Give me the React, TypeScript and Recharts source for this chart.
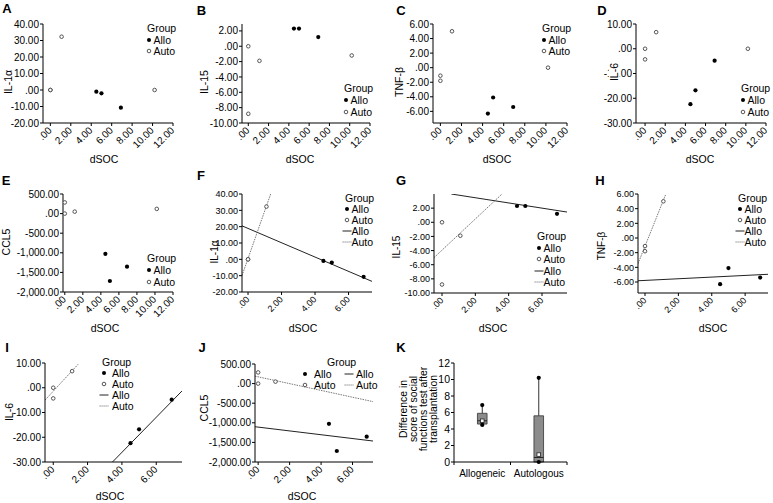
import React from 'react';
import { ComposedChart, Scatter, XAxis, YAxis, ReferenceLine, ReferenceArea } from 'recharts';

const FONT = '"Liberation Sans", Arial, Helvetica, sans-serif';
const INK = '#000';

// dSOC per animal
const alloDSOC = [4.5, 5.0, 6.9];
const autoDSOC = [0, 0, 1.1, 10.2];

// cytokine change per animal (same order as dSOC)
const il1aAllo = [-1, -2, -10.7];
const il1aAuto = [0, 0, 32.3, 0];
const il15Allo = [2.3, 2.3, 1.2];
const il15Auto = [0, -8.8, -1.9, -1.2];
const tnfbAllo = [-6.3, -4.1, -5.4];
const tnfbAuto = [-1.1, -1.8, 5.0, 0];
const il6Allo = [-22.4, -16.8, -4.8];
const il6Auto = [0, -4.3, 6.7, 0];
const ccl5Allo = [-1025, -1720, -1355];
const ccl5Auto = [285, 0, 50, 120];

const il1aFitAllo = [[-0.36, 20.5], [7.4, -13.5]];
const il1aFitAuto = [[-0.36, -10], [1.35, 40]];
const il15FitAllo = [[0.56, 4], [7.5, 1.45]];
const il15FitAuto = [[-0.48, -5], [3.6, 4]];
const tnfbFitAllo = [[-0.42, -5.83], [7.37, -4.95]];
const tnfbFitAuto = [[-0.42, -3.5], [1.25, 6]];
const il6FitAllo = [[3.45, -30], [7.5, -1.3]];
const il6FitAuto = [[-0.48, -5], [1.45, 9.5]];
const ccl5FitAllo = [[-0.2, -1100], [7.3, -1465]];
const ccl5FitAuto = [[-0.2, 190], [7.3, -460]];

// panel K box plot
const kGroups = ['Allogeneic', 'Autologous'];
const kMin = [4.5, 0];
const kQ1 = [4.6, 0];
const kMed = [5.0, 0.55];
const kQ3 = [5.9, 5.6];
const kMax = [6.9, 10.2];
const kFilled = [[6.9, 4.5], [10.2, 0]];
const kOpen = [[5.0], [0.9]];

const fmt = (v: number) =>
  v === 0 ? '.00' : v.toLocaleString('en-US', { minimumFractionDigits: 2, maximumFractionDigits: 2 });

const pts = (xs: number[], ys: number[]) => xs.map((x, i) => ({ x, y: ys[i] }));

const Dot = (p: any) => <circle cx={p.cx} cy={p.cy} r={2.1} fill={INK} />;
const Ring = (p: any) => <circle cx={p.cx} cy={p.cy} r={1.8} fill="#fff" stroke="#444" strokeWidth={0.9} />;
const OpenSq = (p: any) => (
  <rect x={p.cx - 1.8} y={p.cy - 1.8} width={3.6} height={3.6} fill="#fff" stroke="#333" strokeWidth={0.9} />
);

const RotTick = (props: any) => {
  const { x, y, payload, fs } = props;
  const ax = x + 2;
  const ay = y + 3;
  return (
    <text x={ax} y={ay} transform={`rotate(-45 ${ax} ${ay})`} textAnchor="end" fontSize={fs} fontFamily={FONT} fill={INK}>
      {fmt(payload.value)}
    </text>
  );
};

const KTick = (props: any) => {
  const { x, y, payload } = props;
  const v = payload.value;
  if (Number.isInteger(v)) {
    return <line x1={x} x2={x} y1={y - 5} y2={y - 2} stroke={INK} />;
  }
  return (
    <text x={x} y={y + 10} textAnchor="middle" fontSize={10} fontFamily={FONT} fill={INK}>
      {kGroups[Math.floor(v)]}
    </text>
  );
};

function Txt({ x, y, children, size = 10.5, bold = false, center = false }: any) {
  return (
    <div
      style={{
        position: 'absolute',
        left: x,
        top: y,
        transform: center ? 'translate(-50%, -50%)' : 'translateY(-50%)',
        fontSize: size,
        fontWeight: bold ? 'bold' : 'normal',
        lineHeight: 1,
        whiteSpace: 'nowrap',
      }}
    >
      {children}
    </div>
  );
}

function VTxt({ x, y, children, size = 10.5, mask = false }: any) {
  return (
    <div
      style={{
        position: 'absolute',
        left: x,
        top: y,
        transform: 'translate(-50%, -50%) rotate(-90deg)',
        fontSize: size,
        lineHeight: 1,
        whiteSpace: 'nowrap',
        background: mask ? '#fff' : 'transparent',
        padding: mask ? '0 1px' : 0,
      }}
    >
      {children}
    </div>
  );
}

type Mark = 'dot' | 'ring' | 'solid' | 'dotted';
const markLabel: Record<Mark, string> = { dot: 'Allo', ring: 'Auto', solid: 'Allo', dotted: 'Auto' };

function LegMark({ kind, x, y }: { kind: Mark; x: number; y: number }) {
  return (
    <svg style={{ position: 'absolute', left: x - 6, top: y - 4 }} width={12} height={8}>
      {kind === 'dot' && <circle cx={6} cy={4} r={2} fill={INK} />}
      {kind === 'ring' && <circle cx={6} cy={4} r={1.8} fill="#fff" stroke="#444" strokeWidth={0.9} />}
      {kind === 'solid' && <line x1={1.5} x2={10.5} y1={4} y2={4} stroke="#222" strokeWidth={1} />}
      {kind === 'dotted' && <line x1={1.5} x2={10.5} y1={4} y2={4} stroke="#555" strokeWidth={0.8} strokeDasharray="1.2 0.8" />}
    </svg>
  );
}

type LegItem = { kind: Mark; mx: number; tx: number; y: number };

function GroupLegend({ gx, gy, items }: { gx: number; gy: number; items: LegItem[] }) {
  return (
    <>
      <Txt x={gx} y={gy}>Group</Txt>
      {items.map((it, i) => (
        <React.Fragment key={i}>
          <LegMark kind={it.kind} x={it.mx} y={it.y} />
          <Txt x={it.tx} y={it.y}>{markLabel[it.kind]}</Txt>
        </React.Fragment>
      ))}
    </>
  );
}

const stack = (gx: number, gy: number, gap: number, tOff: number, kinds: Mark[]): LegItem[] =>
  kinds.map((k, i) => ({ kind: k, mx: gx + 1.5, tx: gx + tOff, y: gy + gap * (i + 1) }));

type PanelCfg = {
  letter: string; lx: number; ly: number;
  x0: number; l: number; r: number; t: number; b: number;
  xDomain: [number, number]; xTicks: number[];
  yDomain: [number, number]; yTicks: number[];
  yLabel: string; ylx: number; yly: number; xlx: number; xly: number;
  allo: number[]; auto: number[];
  fitAllo?: number[][]; fitAuto?: number[][];
  legend: { gx: number; gy: number; items: LegItem[] };
  fs?: number; mask?: boolean;
};

const wideTicks = [0, 2, 4, 6, 8, 10, 12];
const shortTicks = [0, 2, 4, 6];
const both: Mark[] = ['dot', 'ring'];
const four: Mark[] = ['dot', 'ring', 'solid', 'dotted'];

const panels: PanelCfg[] = [
  {
    letter: 'A', lx: 7, ly: 7.5, x0: 0, l: 43, r: 173, t: 24, b: 123,
    xDomain: [-0.72, 12], xTicks: wideTicks, yDomain: [-20, 40], yTicks: [-20, -10, 0, 10, 20, 30, 40],
    yLabel: 'IL-1α', ylx: 8, yly: 82, xlx: 104, xly: 159, allo: il1aAllo, auto: il1aAuto,
    legend: { gx: 147, gy: 28, items: stack(147, 28, 11.5, 6.5, both) },
  },
  {
    letter: 'B', lx: 201.5, ly: 9.5, x0: 190, l: 242, r: 370, t: 24, b: 123,
    xDomain: [-0.62, 12], xTicks: wideTicks, yDomain: [-10, 2.9], yTicks: [-10, -8, -6, -4, -2, 0, 2],
    yLabel: 'IL-15', ylx: 204, yly: 82, xlx: 300, xly: 159, allo: il15Allo, auto: il15Auto,
    legend: { gx: 344, gy: 88, items: stack(344, 88, 12, 6.5, both) },
  },
  {
    letter: 'C', lx: 401, ly: 9.5, x0: 380, l: 433, r: 567, t: 24, b: 123,
    xDomain: [-0.7, 12], xTicks: wideTicks, yDomain: [-7.6, 6], yTicks: [-6, -4, -2, 0, 2, 4, 6],
    yLabel: 'TNF-β', ylx: 399, yly: 82, xlx: 497, xly: 159, allo: tnfbAllo, auto: tnfbAuto,
    legend: { gx: 542, gy: 28, items: stack(542, 28, 11.5, 6.5, both) },
  },
  {
    letter: 'D', lx: 602, ly: 9.5, x0: 573, l: 636, r: 766, t: 24, b: 123,
    xDomain: [-0.9, 12], xTicks: wideTicks, yDomain: [-30, 10], yTicks: [-30, -20, -10, 0, 10],
    yLabel: 'IL-6', ylx: 614, yly: 72, xlx: 700, xly: 159, allo: il6Allo, auto: il6Auto,
    legend: { gx: 741, gy: 88, items: stack(741, 88, 12, 6.5, both) }, mask: true,
  },
  {
    letter: 'E', lx: 6, ly: 180, x0: 0, l: 63, r: 173, t: 194, b: 292,
    xDomain: [-0.2, 12], xTicks: wideTicks, yDomain: [-2000, 500], yTicks: [-2000, -1500, -1000, -500, 0, 500],
    yLabel: 'CCL5', ylx: 6, yly: 242, xlx: 105, xly: 328, allo: ccl5Allo, auto: ccl5Auto,
    legend: { gx: 147, gy: 258, items: stack(147, 258, 12, 6.5, both) },
  },
  {
    letter: 'F', lx: 201, ly: 175, x0: 190, l: 242, r: 372, t: 194, b: 292,
    xDomain: [-0.36, 7.4], xTicks: shortTicks, yDomain: [-20, 40], yTicks: [-20, -10, 0, 10, 20, 30, 40],
    yLabel: 'IL-1α', ylx: 215, yly: 252, xlx: 303, xly: 328, allo: il1aAllo, auto: il1aAuto,
    fitAllo: il1aFitAllo, fitAuto: il1aFitAuto, fs: 9,
    legend: { gx: 345, gy: 198, items: stack(345, 198, 11, 6.5, four) },
  },
  {
    letter: 'G', lx: 401, ly: 180, x0: 380, l: 434, r: 567, t: 194, b: 293,
    xDomain: [-0.48, 7.5], xTicks: shortTicks, yDomain: [-10, 4], yTicks: [-10, -8, -6, -4, -2, 0, 2],
    yLabel: 'IL-15', ylx: 397, yly: 247, xlx: 493, xly: 328, allo: il15Allo, auto: il15Auto,
    fitAllo: il15FitAllo, fitAuto: il15FitAuto, fs: 9,
    legend: { gx: 537, gy: 236, items: stack(537, 236, 11.5, 6.5, four) },
  },
  {
    letter: 'H', lx: 600, ly: 180, x0: 573, l: 638, r: 768, t: 194, b: 293,
    xDomain: [-0.42, 7.37], xTicks: shortTicks, yDomain: [-7.5, 6], yTicks: [-6, -4, -2, 0, 2, 4, 6],
    yLabel: 'TNF-β', ylx: 602, yly: 246, xlx: 713, xly: 328, allo: tnfbAllo, auto: tnfbAuto,
    fitAllo: tnfbFitAllo, fitAuto: tnfbFitAuto, fs: 9,
    legend: { gx: 738, gy: 198, items: stack(738, 198, 11, 6.5, four) },
  },
  {
    letter: 'I', lx: 7, ly: 347, x0: 0, l: 45, r: 182, t: 363, b: 462,
    xDomain: [-0.48, 7.5], xTicks: shortTicks, yDomain: [-30, 10], yTicks: [-30, -20, -10, 0, 10],
    yLabel: 'IL-6', ylx: 9, yly: 412, xlx: 110, xly: 496, allo: il6Allo, auto: il6Auto,
    fitAllo: il6FitAllo, fitAuto: il6FitAuto,
    legend: { gx: 102, gy: 362, items: stack(102, 362, 11, 10, four) },
  },
  {
    letter: 'J', lx: 202, ly: 347, x0: 190, l: 255, r: 373, t: 364, b: 462,
    xDomain: [-0.2, 7.3], xTicks: shortTicks, yDomain: [-2000, 500], yTicks: [-2000, -1500, -1000, -500, 0, 500],
    yLabel: 'CCL5', ylx: 204, yly: 408, xlx: 302, xly: 496, allo: ccl5Allo, auto: ccl5Auto,
    fitAllo: ccl5FitAllo, fitAuto: ccl5FitAuto,
    legend: {
      gx: 327, gy: 362,
      items: [
        { kind: 'dot', mx: 305, tx: 314, y: 373.5 },
        { kind: 'ring', mx: 305, tx: 314, y: 384.5 },
        { kind: 'solid', mx: 348.5, tx: 356, y: 373.5 },
        { kind: 'dotted', mx: 348.5, tx: 356, y: 384.5 },
      ],
    },
  },
];

function ScatterPanel({ p }: { p: PanelCfg }) {
  const top = p.t - 6;
  const w = p.r - p.x0 + 2;
  const h = p.b - top + 40;
  const fs = p.fs ?? 10;
  const inX = (d: { x: number }) => d.x <= p.xDomain[1];
  const allo = pts(alloDSOC, p.allo).filter(inX);
  const auto = pts(autoDSOC, p.auto).filter(inX);
  return (
    <>
      <div style={{ position: 'absolute', left: p.x0, top }}>
        <ComposedChart width={w} height={h} margin={{ top: 6, right: 2, bottom: 0, left: 0 }}>
          <XAxis
            type="number"
            dataKey="x"
            domain={p.xDomain}
            ticks={p.xTicks}
            allowDataOverflow
            interval={0}
            height={40}
            tickSize={3}
            tick={(props: any) => <RotTick {...props} fs={fs} />}
            stroke={INK}
          />
          <YAxis
            type="number"
            dataKey="y"
            domain={p.yDomain}
            ticks={p.yTicks}
            allowDataOverflow
            interval={0}
            width={p.l - p.x0}
            tickSize={3}
            tickMargin={1}
            tickFormatter={fmt}
            tick={{ fontSize: fs, fill: INK, fontFamily: FONT }}
            stroke={INK}
          />
          {p.fitAllo && (
            <ReferenceLine
              segment={p.fitAllo.map(([x, y]) => ({ x, y }))}
              stroke="#222"
              strokeWidth={1}
              ifOverflow="hidden"
            />
          )}
          {p.fitAuto && (
            <ReferenceLine
              segment={p.fitAuto.map(([x, y]) => ({ x, y }))}
              stroke="#555"
              strokeWidth={0.8}
              strokeDasharray="1.5 1"
              ifOverflow="hidden"
            />
          )}
          <Scatter data={allo} shape={Dot} isAnimationActive={false} />
          <Scatter data={auto} shape={Ring} isAnimationActive={false} />
        </ComposedChart>
      </div>
      <Txt x={p.lx} y={p.ly} size={13} bold center>{p.letter}</Txt>
      <VTxt x={p.ylx} y={p.yly} size={p.fs ? 10 : 10.5} mask={p.mask}>{p.yLabel}</VTxt>
      <Txt x={p.xlx} y={p.xly} center>dSOC</Txt>
      <GroupLegend gx={p.legend.gx} gy={p.legend.gy} items={p.legend.items} />
    </>
  );
}

function BoxPanel() {
  const x0 = 380;
  const l = 454;
  const r = 567;
  const t = 363;
  const b = 462;
  const top = t - 6;
  const half = 0.085;
  const filled = kFilled.flatMap((ys, i) => ys.map((y) => ({ x: i + 0.5, y })));
  const open = kOpen.flatMap((ys, i) => ys.map((y) => ({ x: i + 0.5, y })));
  return (
    <>
      <div style={{ position: 'absolute', left: x0, top }}>
        <ComposedChart width={r - x0 + 2} height={b - top + 30} margin={{ top: 6, right: 2, bottom: 0, left: 0 }}>
          <XAxis
            type="number"
            dataKey="x"
            domain={[0, 2]}
            ticks={[0, 0.5, 1, 1.5, 2]}
            interval={0}
            height={30}
            tickSize={3}
            tickLine={false}
            tick={(props: any) => <KTick {...props} />}
            stroke={INK}
          />
          <YAxis
            type="number"
            dataKey="y"
            domain={[0, 12]}
            ticks={[0, 2, 4, 6, 8, 10, 12]}
            interval={0}
            width={l - x0}
            tickSize={3}
            tickMargin={1}
            tick={{ fontSize: 10.5, fill: INK, fontFamily: FONT }}
            stroke={INK}
          />
          {kGroups.map((g, i) => (
            <ReferenceLine
              key={`wl-${g}`}
              segment={[{ x: i + 0.5, y: kMin[i] }, { x: i + 0.5, y: kQ1[i] }]}
              stroke="#333"
              ifOverflow="visible"
            />
          ))}
          {kGroups.map((g, i) => (
            <ReferenceLine
              key={`wh-${g}`}
              segment={[{ x: i + 0.5, y: kQ3[i] }, { x: i + 0.5, y: kMax[i] }]}
              stroke="#333"
              ifOverflow="visible"
            />
          ))}
          {kGroups.map((g, i) => (
            <ReferenceArea
              key={`box-${g}`}
              x1={i + 0.5 - half}
              x2={i + 0.5 + half}
              y1={kQ1[i]}
              y2={kQ3[i]}
              fill="#8c8c8c"
              fillOpacity={1}
              stroke="#333"
              strokeWidth={0.8}
              ifOverflow="visible"
            />
          ))}
          {kGroups.map((g, i) => (
            <ReferenceLine
              key={`med-${g}`}
              segment={[{ x: i + 0.5 - half, y: kMed[i] }, { x: i + 0.5 + half, y: kMed[i] }]}
              stroke="#222"
              strokeWidth={1}
              ifOverflow="visible"
            />
          ))}
          <Scatter data={filled} shape={Dot} isAnimationActive={false} />
          <Scatter data={open} shape={OpenSq} isAnimationActive={false} />
        </ComposedChart>
      </div>
      <Txt x={401} y={347} size={13} bold center>K</Txt>
      <div
        style={{
          position: 'absolute',
          left: 418,
          top: 409,
          transform: 'translate(-50%, -50%) rotate(-90deg) scaleX(0.9)',
          fontSize: 11.5,
          lineHeight: '10px',
          textAlign: 'center',
          whiteSpace: 'nowrap',
        }}
      >
        Difference in
        <br />
        score of social
        <br />
        functions test after
        <br />
        transplantation
      </div>
    </>
  );
}

export default function App() {
  return (
    <div
      style={{
        position: 'absolute',
        left: 0,
        top: 0,
        width: 773,
        height: 503,
        background: '#fff',
        fontFamily: FONT,
        color: INK,
        overflow: 'hidden',
      }}
    >
      {panels.map((p) => (
        <ScatterPanel key={p.letter} p={p} />
      ))}
      <BoxPanel />
    </div>
  );
}
